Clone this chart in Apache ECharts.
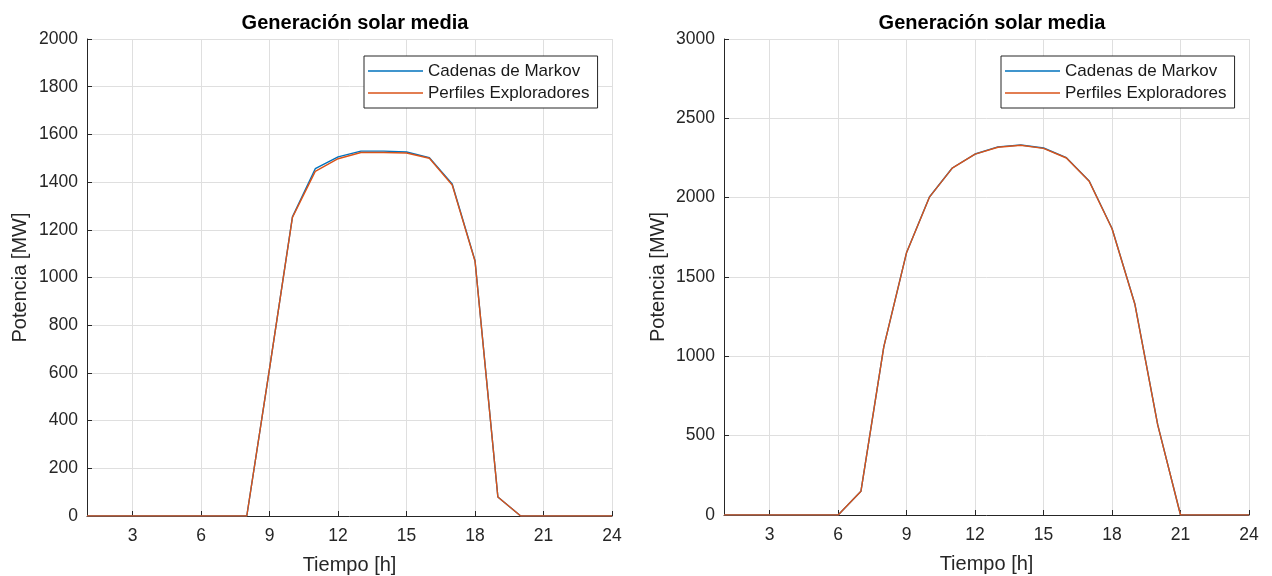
<!DOCTYPE html>
<html>
<head>
<meta charset="utf-8">
<script src="https://cdn.jsdelivr.net/npm/echarts@6/dist/echarts.min.js"></script>
<style>
  html, body { margin: 0; padding: 0; background: #fff; }
  #chart { width: 1272px; height: 576px; }
</style>
</head>
<body>
<div id="chart"></div>
<script>
// Hours of the day (1..24)
const hours = Array.from({ length: 24 }, (_, i) => i + 1);
const hourTicks = [3, 6, 9, 12, 15, 18, 21, 24];

// Left panel: mean solar generation [MW]
const leftMarkov = [0, 0, 0, 0, 0, 0, 0, 0, 620, 1254, 1456, 1506, 1530, 1530, 1526, 1502, 1392, 1070, 80, 0, 0, 0, 0, 0];
const leftPerfiles = [0, 0, 0, 0, 0, 0, 0, 0, 620, 1252, 1445, 1498, 1524, 1524, 1522, 1500, 1388, 1068, 80, 0, 0, 0, 0, 0];

// Right panel: mean solar generation [MW]
const rightMarkov = [0, 0, 0, 0, 0, 0, 150, 1060, 1655, 2004, 2187, 2275, 2320, 2332, 2313, 2252, 2105, 1806, 1330, 570, 0, 0, 0, 0];
const rightPerfiles = [0, 0, 0, 0, 0, 0, 150, 1060, 1655, 2003, 2186, 2274, 2318, 2330, 2311, 2250, 2103, 1804, 1328, 568, 0, 0, 0, 0];

const seriesNames = ['Cadenas de Markov', 'Perfiles Exploradores'];
const colors = ['#0072BD', '#D95319'];
const FONT = 'Liberation Sans, Arial, sans-serif';
const textColor = '#262626';
const gridColor = '#DFDFDF';

const pairs = (ys) => hours.map((h, i) => [h, ys[i]]);

const grids = [
  { left: 87, top: 39, width: 525, height: 477, containLabel: false, outerBoundsMode: 'none' },
  { left: 724, top: 39, width: 525, height: 476, containLabel: false, outerBoundsMode: 'none' }
];

function xAxisFor(gridIndex) {
  return {
    type: 'value', gridIndex, min: 1, max: 24,
    name: 'Tiempo [h]', nameLocation: 'middle', nameGap: 39,
    nameTextStyle: { fontFamily: FONT, fontSize: 20, color: textColor },
    axisLine: { show: true, lineStyle: { color: '#262626', width: 1 } },
    axisTick: { show: true, inside: true, length: 5, customValues: hourTicks, lineStyle: { color: '#262626' } },
    axisLabel: { customValues: hourTicks, fontFamily: FONT, fontSize: 17.5, color: textColor, margin: 11 },
    splitLine: { show: false }
  };
}

function yAxisFor(gridIndex, max, interval) {
  return {
    type: 'value', gridIndex, min: 0, max, interval,
    name: 'Potencia [MW]', nameLocation: 'middle', nameGap: gridIndex === 0 ? 57 : 56,
    nameTextStyle: { fontFamily: FONT, fontSize: 20, color: textColor },
    axisLine: { show: true, lineStyle: { color: '#262626', width: 1 } },
    axisTick: { show: true, inside: true, length: 5, lineStyle: { color: '#262626' } },
    axisLabel: { fontFamily: FONT, fontSize: 17.5, color: textColor, margin: 9, formatter: v => String(v) },
    splitLine: { show: true, lineStyle: { color: gridColor, width: 1 } }
  };
}

// Vertical grid lines at the hour ticks, placed through the x scale
function vGrid(xi) {
  return {
    type: 'line', xAxisIndex: xi, yAxisIndex: xi, data: [], silent: true, z: 0,
    markLine: {
      silent: true, symbol: 'none', z: 0, label: { show: false },
      lineStyle: { color: gridColor, width: 1, type: 'solid' },
      emphasis: { disabled: true },
      data: hourTicks.map(t => ({ xAxis: t }))
    }
  };
}

function lineSeries(name, data, idx, color) {
  return {
    name, type: 'line', xAxisIndex: idx, yAxisIndex: idx,
    data: pairs(data), showSymbol: false, symbol: 'none',
    lineStyle: { color, width: 1.4 }, itemStyle: { color },
    z: 3, animation: false
  };
}

function legendFor(leftPx) {
  return {
    left: leftPx, top: 56, orient: 'vertical', z: 20,
    data: seriesNames,
    backgroundColor: '#fff', borderColor: '#262626', borderWidth: 1, borderRadius: 0,
    padding: [5, 8, 5, 4], itemGap: 2,
    itemWidth: 55, itemHeight: 1.6,
    icon: 'rect',
    textStyle: { fontFamily: FONT, fontSize: 17, color: '#1a1a1a', lineHeight: 20, padding: [0, 0, 0, 0] }
  };
}

const chart = echarts.init(document.getElementById('chart'), null, { renderer: 'canvas' });
chart.setOption({
  animation: false,
  backgroundColor: '#fff',
  title: [
    { text: 'Generación solar media', left: 350, top: 8, textAlign: 'center',
      textStyle: { fontFamily: FONT, fontSize: 20, fontWeight: 'bold', color: '#000' } },
    { text: 'Generación solar media', left: 987, top: 8, textAlign: 'center',
      textStyle: { fontFamily: FONT, fontSize: 20, fontWeight: 'bold', color: '#000' } }
  ],
  legend: [legendFor(364), legendFor(1001)],
  grid: grids,
  xAxis: [xAxisFor(0), xAxisFor(1)],
  yAxis: [yAxisFor(0, 2000, 200), yAxisFor(1, 3000, 500)],
  series: [
    vGrid(0), vGrid(1),
    lineSeries(seriesNames[0], leftMarkov, 0, colors[0]),
    lineSeries(seriesNames[1], leftPerfiles, 0, colors[1]),
    lineSeries(seriesNames[0], rightMarkov, 1, colors[0]),
    lineSeries(seriesNames[1], rightPerfiles, 1, colors[1])
  ]
});
</script>
</body>
</html>
